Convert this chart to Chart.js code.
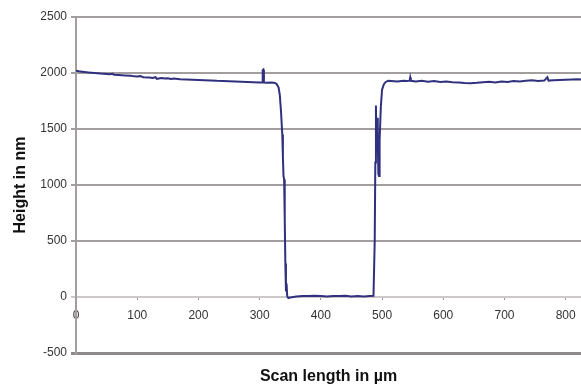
<!DOCTYPE html>
<html>
<head>
<meta charset="utf-8">
<script src="https://cdn.jsdelivr.net/npm/chart.js@4/dist/chart.umd.min.js"></script>
<style>
  body { margin: 0; background: #fff; }
</style>
</head>
<body>
<canvas id="chart" width="581" height="385"></canvas>
<script>
const scanX = [
    0, 5, 10, 15, 20, 30, 40, 50, 55, 60, 62, 70, 80, 90, 95, 100, 105, 110, 120, 125,
    130, 132, 140, 145, 150, 155, 160, 170, 180, 190, 200, 210, 220, 230, 240, 250, 260, 270, 280, 290,
    300, 304, 305, 306, 307, 310, 320, 325, 328, 331, 333, 335, 337, 338, 339, 340, 341, 342, 343, 344,
    345, 347, 350, 360, 370, 380, 390, 400, 410, 420, 430, 440, 450, 460, 470, 480, 486, 488, 489, 490,
    491, 492, 493, 494, 495, 496, 498, 500, 503, 506, 510, 515, 525, 535, 540, 545, 546, 547, 555, 565,
    575, 585, 595, 605, 615, 625, 635, 645, 655, 665, 675, 685, 695, 705, 715, 725, 735, 745, 755, 765,
    770, 772, 780, 790, 800, 810, 820, 825
];
const heightY = [
    2020, 2015, 2012, 2008, 2005, 2000, 1995, 1992, 1988, 1993, 1985, 1982, 1978, 1975, 1970, 1968, 1972, 1962, 1960, 1955,
    1962, 1948, 1955, 1950, 1952, 1946, 1950, 1945, 1942, 1940, 1937, 1935, 1934, 1930, 1928, 1926, 1924, 1922, 1920, 1918,
    1915, 1915, 2025, 2030, 1916, 1914, 1915, 1912, 1900, 1870, 1800, 1650, 1450, 1250, 1080, 1050, 700, 300, 50, 120,
    10, -10, -5, 5, 10, 8, 12, 10, 5, 10, 8, 12, 5, 8, 5, 8, 10, 500, 1200, 1710,
    1300, 1600, 1400, 1100, 1080, 1400, 1700, 1850, 1900, 1920, 1930, 1928, 1925, 1930, 1928, 1932, 1960, 1930, 1925, 1930,
    1922, 1928, 1920, 1924, 1918, 1916, 1910, 1908, 1912, 1918, 1922, 1915, 1925, 1920, 1928, 1925, 1930, 1935, 1928, 1932,
    1962, 1932, 1935, 1938, 1940, 1942, 1945, 1943
];
const xTicks = [0, 100, 200, 300, 400, 500, 600, 700, 800];
const yTicks = [-500, 0, 500, 1000, 1500, 2000, 2500];

const points = scanX.map((x, i) => ({ x: x, y: heightY[i] }));

const ctx = document.getElementById('chart');

new Chart(ctx, {
    type: 'line',
    data: {
        datasets: [{
            data: points,
            borderColor: '#30307f',
            borderWidth: 2,
            pointRadius: 0,
            tension: 0,
            fill: false
        }]
    },
    options: {
        responsive: false,
        animation: false,
        devicePixelRatio: 1,
        layout: {
            padding: { top: 17, right: 0, left: 0, bottom: 0 }
        },
        plugins: {
            legend: { display: false },
            tooltip: { enabled: false },
            title: {
                display: true,
                position: 'bottom',
                fullSize: false,
                text: 'Scan length in µm',
                color: '#111',
                font: { family: 'Liberation Sans', size: 16, weight: 'bold', lineHeight: 1 },
                padding: { top: 16, bottom: 0 }
            }
        },
        scales: {
            x: {
                type: 'linear',
                position: { y: 0 },
                min: 0,
                max: 825,
                afterBuildTicks: (scale) => {
                    scale.ticks = xTicks.map(v => ({ value: v }));
                },
                afterFit: (scale) => {
                    // let the plot run to the right edge like the original
                    scale.paddingRight = 0;
                    scale.paddingLeft = 0;
                },
                grid: {
                    display: true,
                    drawOnChartArea: false,
                    drawTicks: true,
                    tickLength: 3,
                    tickColor: '#9a9494'
                },
                border: { display: false },
                ticks: {
                    color: '#333',
                    padding: 8,
                    maxRotation: 0,
                    font: { family: 'Liberation Sans', size: 12 },
                    callback: (v) => String(v)
                }
            },
            y: {
                type: 'linear',
                position: 'left',
                min: -500,
                max: 2500,
                afterBuildTicks: (scale) => {
                    scale.ticks = yTicks.map(v => ({ value: v }));
                },
                afterFit: (scale) => {
                    scale.width = 76;
                },
                grid: {
                    color: (c) => {
                        if (c.tick && c.tick.value === 0) return '#cdc8c8';
                        if (c.tick && c.tick.value === -500) return '#8e8989';
                        return '#a39e9e';
                    },
                    lineWidth: (c) => (c.tick && c.tick.value === -500) ? 3 : 2,
                    drawTicks: true,
                    tickLength: 5
                },
                border: { display: true, color: '#a39e9e', width: 2 },
                ticks: {
                    color: '#333',
                    padding: 4,
                    font: { family: 'Liberation Sans', size: 12 },
                    callback: (v) => String(v)
                },
                title: {
                    display: true,
                    text: 'Height in nm',
                    color: '#111',
                    font: { family: 'Liberation Sans', size: 16, weight: 'bold', lineHeight: 1 },
                    padding: { top: 13, bottom: 0 }
                }
            }
        }
    }
});
</script>
</body>
</html>
